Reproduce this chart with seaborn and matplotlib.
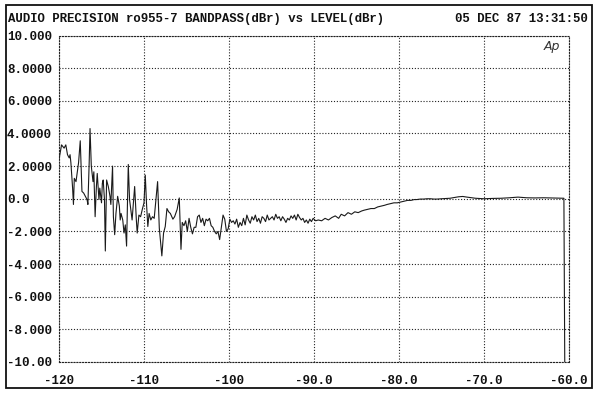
import matplotlib
matplotlib.use("Agg")
import matplotlib.pyplot as plt
from matplotlib.patches import Rectangle
import seaborn as sns
import pandas as pd

# ---- data ----
level_a = [-120.0, -119.7, -119.4, -119.2, -119.0, -118.8, -118.7, -118.6, -118.4, -118.3,
           -118.2, -118.0, -117.9, -117.7, -117.5, -117.3, -117.1, -116.9, -116.7, -116.6,
           -116.45, -116.35, -116.2, -116.0, -115.9, -115.75, -115.6, -115.5, -115.3, -115.2,
           -115.0, -114.9, -114.8, -114.65, -114.55, -114.4, -114.2, -114.0, -113.9, -113.7,
           -113.6, -113.45, -113.3, -113.1, -112.9, -112.8, -112.7, -112.5, -112.35, -112.2,
           -112.05, -111.85, -111.7, -111.5, -111.4, -111.1, -110.9, -110.8, -110.6, -110.4,
           -110.2, -110.0, -109.85, -109.7, -109.55, -109.4, -109.2, -109.0, -108.8]
bandpass_a = [2.4, 3.3, 3.1, 3.3, 2.7, 2.5, 2.7, 2.2, 0.65, -0.35,
              1.25, 1.05, 1.45, 2.2, 3.55, 0.45, 0.35, 0.15, -0.05, -0.35,
              2.2, 4.3, 2.0, 1.05, 1.65, -1.1, 0.75, 1.55, -0.05, 0.65,
              -0.25, 0.95, 1.15, -0.05, -3.2, 1.15, 0.75, 0.15, -0.35, 2.0,
              -1.1, -2.2, -0.9, 0.15, -0.45, -1.3, -0.9, -1.3, -2.1, -1.6,
              -2.9, 2.1, -0.05, -0.9, -1.3, 0.75, -1.3, -2.1, -1.0, -1.1,
              -0.65, -0.25, 1.45, -0.35, -1.7, -0.9, -1.3, -1.1, -1.2]

level_b = [-108.4, -108.2, -107.9, -107.7, -107.5, -107.3, -107.1, -106.9, -106.6, -106.4,
           -106.1, -105.85, -105.65, -105.5, -105.3, -105.1, -104.9, -104.7, -104.5, -104.3,
           -104.1, -103.9, -103.7, -103.5, -103.3, -103.1, -102.9, -102.7, -102.5, -102.3,
           -102.1, -101.9, -101.7, -101.5, -101.3, -101.1, -100.9, -100.7, -100.5, -100.3,
           -100.1, -99.9, -99.7, -99.5, -99.3, -99.1, -98.9, -98.7, -98.5]
bandpass_b = [1.05, -1.8, -3.5, -2.1, -1.7, -0.6, -0.8, -0.9, -1.25, -1.1,
              -0.65, 0.05, -3.1, -1.45, -1.65, -1.35, -2.0, -1.2, -1.75, -2.15,
              -1.75, -1.75, -1.1, -1.0, -1.45, -1.2, -1.65, -1.25, -1.35, -1.2,
              -1.65, -1.75, -2.0, -2.15, -2.0, -2.5, -1.75, -1.0, -1.25, -2.0,
              -1.85, -1.25, -1.45, -1.35, -1.55, -1.25, -1.75, -1.45, -1.65]

level_c = [-98.3, -98.1, -97.9, -97.7, -97.5, -97.3, -97.1, -96.9, -96.7, -96.5,
           -96.3, -96.1, -95.9, -95.7, -95.5, -95.3, -95.1, -94.9, -94.7, -94.5,
           -94.3, -94.1, -93.9, -93.7, -93.5, -93.3, -93.1, -92.9, -92.7, -92.5,
           -92.3, -92.1, -91.9, -91.7, -91.5, -91.3, -91.1, -90.9, -90.7, -90.5,
           -90.3, -90.1, -89.8, -89.5]
bandpass_c = [-1.2, -1.6, -1.0, -1.3, -1.5, -1.1, -1.3, -1.0, -1.4, -1.2,
              -1.5, -1.1, -1.2, -1.4, -1.0, -1.3, -1.2, -1.1, -1.3, -0.95,
              -1.2, -1.1, -1.35, -1.1, -1.25, -1.45, -1.2, -1.3, -1.05, -1.2,
              -1.0, -1.3, -0.95, -1.15, -1.3, -1.2, -1.45, -1.3, -1.5, -1.25,
              -1.4, -1.2, -1.35, -1.3]

level_d = [-89.1, -88.7, -88.3, -87.9, -87.5, -87.1, -86.8, -86.4, -86.0, -85.6,
           -85.2, -84.8, -84.4, -84.1, -83.7, -83.3, -82.9, -82.5, -82.1, -81.7,
           -81.4, -81.0, -80.6, -80.2, -79.8, -79.4, -79.0, -78.6, -78.2, -77.9,
           -77.5, -77.1, -76.7, -76.3, -75.9]
bandpass_d = [-1.35, -1.2, -1.3, -1.15, -1.05, -1.2, -0.95, -1.05, -0.85, -0.95,
              -0.8, -0.85, -0.75, -0.7, -0.65, -0.6, -0.6, -0.5, -0.45, -0.4,
              -0.35, -0.3, -0.25, -0.25, -0.2, -0.15, -0.1, -0.1, -0.05, -0.05,
              -0.02, -0.02, 0.0, 0.0, -0.02]

level_e = [-75.5, -75.0, -74.0, -73.0, -72.5, -72.0, -71.0, -70.0, -69.0, -68.0,
           -67.0, -66.0, -65.0, -64.0, -63.0, -62.0, -61.0, -60.6, -60.5]
bandpass_e = [-0.02, 0.0, 0.03, 0.12, 0.14, 0.1, 0.03, 0.0, 0.02, 0.03,
              0.06, 0.1, 0.06, 0.05, 0.06, 0.05, 0.04, 0.03, -10.0]

x_ticks = [-120, -110, -100, -90, -80, -70, -60]
x_tick_labels = ["-120", "-110", "-100", "-90.0", "-80.0", "-70.0", "-60.0"]
y_ticks = [10, 8, 6, 4, 2, 0, -2, -4, -6, -8, -10]
y_tick_labels = ["10.000", "8.0000", "6.0000", "4.0000", "2.0000", "0.0",
                 "-2.000", "-4.000", "-6.000", "-8.000", "-10.00"]

title_left = "AUDIO PRECISION ro955-7 BANDPASS(dBr) vs LEVEL(dBr)"
title_right = "05 DEC 87 13:31:50"

df = pd.DataFrame({
    "level": level_a + level_b + level_c + level_d + level_e,
    "bandpass": bandpass_a + bandpass_b + bandpass_c + bandpass_d + bandpass_e,
})

# ---- style ----
sns.set_style("white")
plt.rcParams["font.family"] = ["Liberation Mono", "DejaVu Sans Mono"]
plt.rcParams["axes.unicode_minus"] = False

fig = plt.figure(figsize=(6.0, 3.95), dpi=100)
W, H = 600, 395
ax = fig.add_axes([59 / W, 1 - 362 / H, (569 - 59) / W, (362 - 35.5) / H])

sns.lineplot(data=df, x="level", y="bandpass", ax=ax, sort=False, estimator=None,
             color="#1a1a1a", linewidth=0.8)

ax.set_xlim(-120, -60)
ax.set_ylim(-10, 10)
ax.set_xticks(x_ticks)
ax.set_xticklabels(x_tick_labels)
ax.set_yticks(y_ticks)
ax.set_yticklabels(y_tick_labels)
ax.set_xlabel("")
ax.set_ylabel("")

dotted = (0, (1, 1.6))
ax.grid(True, linestyle=dotted, color="#222222", linewidth=0.8)
for sp in ax.spines.values():
    sp.set_linestyle(dotted)
    sp.set_color("#222222")
    sp.set_linewidth(0.8)

ax.tick_params(axis="both", length=0, labelsize=9, colors="#111111")
ax.tick_params(axis="y", pad=37.4)
ax.tick_params(axis="x", pad=9)
for lab in ax.get_yticklabels():
    lab.set_horizontalalignment("left")
    lab.set_fontweight("bold")
for lab in ax.get_xticklabels():
    lab.set_fontweight("bold")

# Ap logo
ax.text(-62.0, 9.3, "Ap", fontsize=9, style="italic", family="DejaVu Sans",
        fontweight="light", color="#333333", ha="center", va="center")

# header texts
fig.text(8 / W, 1 - 22 / H, title_left, fontsize=8.9, fontweight="bold",
         ha="left", va="baseline", color="#111111")
fig.text(588 / W, 1 - 22 / H, title_right, fontsize=8.9, fontweight="bold",
         ha="right", va="baseline", color="#111111")

# outer frame of the printout
fig.patches.append(Rectangle((6 / W, 1 - 388 / H), 586 / W, 383 / H,
                             transform=fig.transFigure, fill=False,
                             edgecolor="#111111", linewidth=1.3))

fig.savefig("out.png", dpi=100)
